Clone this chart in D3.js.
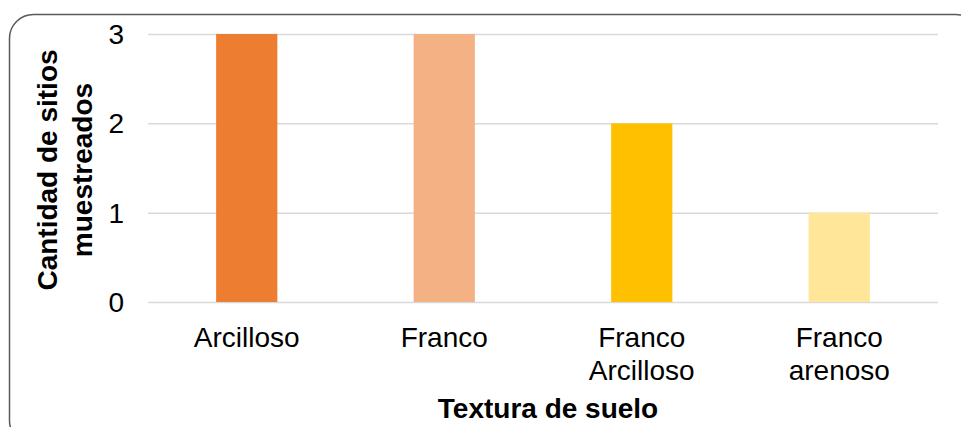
<!DOCTYPE html>
<html>
<head>
<meta charset="utf-8">
<script src="https://cdn.jsdelivr.net/npm/d3@7"></script>
<style>
  html, body { margin: 0; padding: 0; background: #fff; }
  svg { display: block; font-family: Arial, "Liberation Sans", sans-serif; }
</style>
</head>
<body>
<svg id="chart" width="961" height="427"></svg>
<script>
// Soil texture categories and number of sampled sites
const categories = [["Arcilloso"], ["Franco"], ["Franco", "Arcilloso"], ["Franco", "arenoso"]];
const siteCounts = [3, 3, 2, 1];
const barColors = ["#ED7D31", "#F4B183", "#FFC000", "#FFE699"];
const yTicks = [0, 1, 2, 3];

const svg = d3.select("#chart");
const plot = { left: 148, right: 938, top: 34, bottom: 302 };
const fontSize = 28;

// Rounded frame around the chart
svg.append("rect")
  .attr("x", 9.5).attr("y", 14.5)
  .attr("width", 970).attr("height", 430)
  .attr("rx", 24).attr("ry", 24)
  .attr("fill", "#fff")
  .attr("stroke", "#595959").attr("stroke-width", 1.5);

const keys = categories.map(c => c.join(" "));
const x = d3.scaleBand().domain(keys).range([plot.left, plot.right]).paddingInner(0.69).paddingOuter(0.345);
const y = d3.scaleLinear().domain([0, 3]).range([plot.bottom, plot.top]);

// Horizontal gridlines
svg.append("g")
  .attr("transform", `translate(${plot.left},0)`)
  .call(d3.axisLeft(y).tickValues(yTicks).tickSize(-(plot.right - plot.left)).tickFormat(""))
  .call(g => g.select(".domain").remove())
  .call(g => g.selectAll("line").attr("stroke", "#d9d9d9").attr("stroke-width", 1.5));

// Bars
svg.append("g").selectAll("rect")
  .data(siteCounts)
  .join("rect")
  .attr("x", (d, i) => x(keys[i]))
  .attr("y", d => y(d))
  .attr("width", x.bandwidth())
  .attr("height", d => y(0) - y(d))
  .attr("fill", (d, i) => barColors[i]);

// Y tick labels
svg.append("g").selectAll("text")
  .data(yTicks)
  .join("text")
  .attr("x", 124)
  .attr("y", d => y(d) + 10)
  .attr("text-anchor", "end")
  .attr("font-size", fontSize)
  .attr("fill", "#000")
  .text(d => d);

// X category labels (may wrap to two lines)
const xl = svg.append("g").selectAll("text")
  .data(categories)
  .join("text")
  .attr("x", (d, i) => x(keys[i]) + x.bandwidth() / 2)
  .attr("y", 347)
  .attr("text-anchor", "middle")
  .attr("font-size", fontSize)
  .attr("fill", "#000");
xl.selectAll("tspan")
  .data(d => d)
  .join("tspan")
  .attr("x", function () { return d3.select(this.parentNode).attr("x"); })
  .attr("dy", (d, i) => i === 0 ? 0 : 33)
  .text(d => d);

// Axis titles
svg.append("text")
  .attr("x", 548).attr("y", 418)
  .attr("text-anchor", "middle")
  .attr("font-size", fontSize).attr("font-weight", "bold")
  .text("Textura de suelo");

const yt = svg.append("text")
  .attr("transform", "translate(0,170) rotate(-90)")
  .attr("text-anchor", "middle")
  .attr("font-size", fontSize).attr("font-weight", "bold");
yt.append("tspan").attr("x", 0).attr("y", 57).text("Cantidad de sitios");
yt.append("tspan").attr("x", 0).attr("y", 92).text("muestreados");
</script>
</body>
</html>
